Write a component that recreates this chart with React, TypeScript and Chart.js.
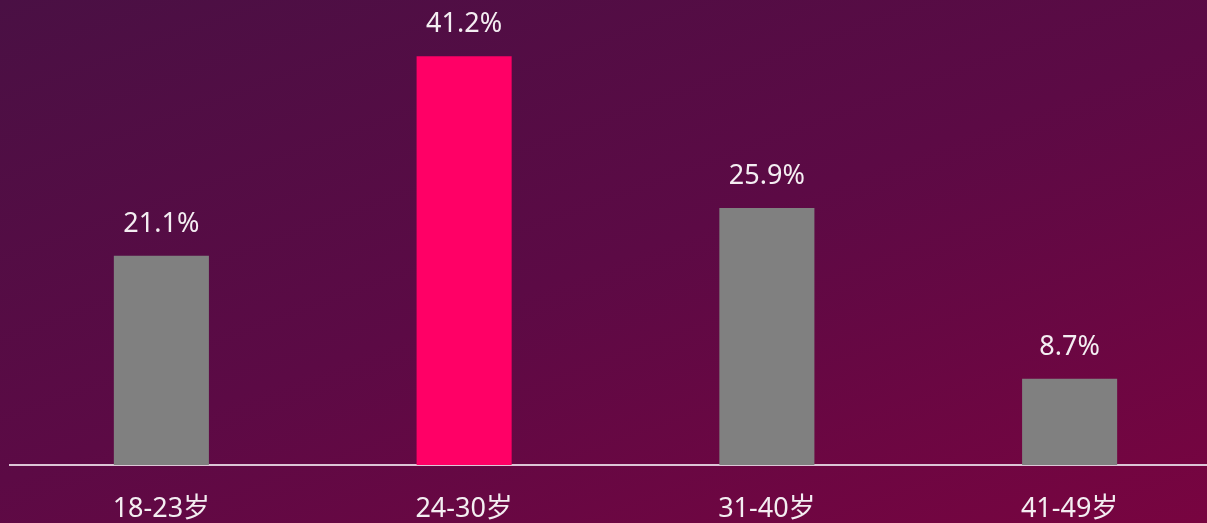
import React, { useEffect, useRef } from "react";
import { Chart, registerables } from "chart.js";

Chart.register(...registerables);

const categories = ["18-23岁", "24-30岁", "31-40岁", "41-49岁"];
const values = [21.1, 41.2, 25.9, 8.7];
const valueLabels = ["21.1%", "41.2%", "25.9%", "8.7%"];
const barColors = ["#808080", "#ff0066", "#808080", "#808080"];

const FONT = '"Noto Sans", "Noto Sans CJK SC", sans-serif';

const valueLabelPlugin = {
  id: "valueLabels",
  afterDatasetsDraw(chart: any) {
    const ctx = chart.ctx;
    const meta = chart.getDatasetMeta(0);
    ctx.save();
    ctx.fillStyle = "#f4eef2";
    ctx.font = `27px ${FONT}`;
    ctx.textAlign = "center";
    ctx.textBaseline = "alphabetic";
    meta.data.forEach((bar: any, i: number) => {
      ctx.fillText(valueLabels[i], bar.x, bar.y - 24);
    });
    ctx.restore();
  },
};

export default function App() {
  const ref = useRef<HTMLCanvasElement | null>(null);
  useEffect(() => {
    if (!ref.current) return;
    const chart = new Chart(ref.current, {
      type: "bar",
      data: {
        labels: categories,
        datasets: [
          {
            data: values,
            backgroundColor: barColors,
            borderWidth: 0,
            barPercentage: 0.314,
            categoryPercentage: 1,
          },
        ],
      },
      options: {
        animation: false,
        responsive: false,
        maintainAspectRatio: false,
        layout: { padding: { left: 10, right: 0, top: 0, bottom: 0 } },
        plugins: { legend: { display: false }, tooltip: { enabled: false } },
        scales: {
          x: {
            grid: { display: false, drawTicks: false },
            border: { display: true, color: "#dcc6d6", width: 2 },
            ticks: {
              color: "#f4eef2",
              font: { size: 27, family: FONT },
              padding: 28,
              maxRotation: 0,
              autoSkip: false,
            },
            afterFit(scale: any) {
              scale.height = 58;
            },
          },
          y: {
            display: false,
            min: 0,
            max: 46.87,
          },
        },
      },
      plugins: [valueLabelPlugin],
    });
    return () => chart.destroy();
  }, []);
  return (
    <div
      style={{
        position: "fixed",
        left: 0,
        top: 0,
        width: 1207,
        height: 523,
        overflow: "hidden",
        background: "linear-gradient(160deg, #4a1044 0%, #5c0a45 50%, #780440 100%)",
      }}
    >
      <canvas ref={ref} width={1221} height={523} style={{ display: "block" }} />
    </div>
  );
}
